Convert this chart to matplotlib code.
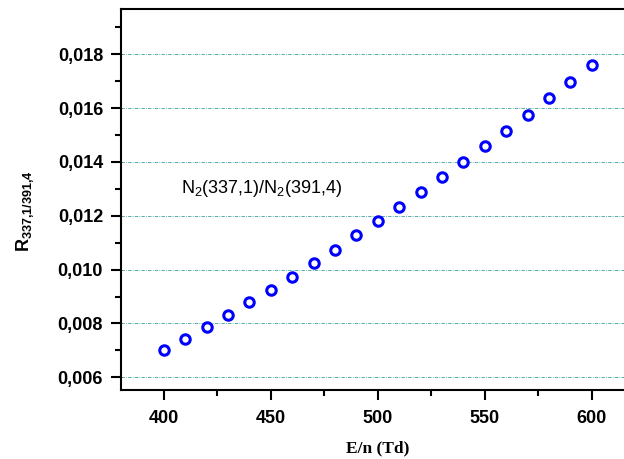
import matplotlib
matplotlib.use("Agg")
import matplotlib.pyplot as plt
from matplotlib.ticker import MultipleLocator, FuncFormatter

plt.rcParams['mathtext.fontset'] = 'custom'
plt.rcParams['mathtext.rm'] = 'Liberation Sans'
plt.rcParams['mathtext.it'] = 'Liberation Sans:italic'
plt.rcParams['mathtext.bf'] = 'Liberation Sans:bold'

en_td = [400, 410, 420, 430, 440, 450, 460, 470, 480, 490, 500,
         510, 520, 530, 540, 550, 560, 570, 580, 590, 600]
ratio = [0.00700, 0.00741, 0.00786, 0.00833, 0.00879, 0.00926, 0.00974,
         0.01025, 0.01074, 0.01127, 0.01180, 0.01234, 0.01289, 0.01345,
         0.01401, 0.01459, 0.01517, 0.01576, 0.01637, 0.01698, 0.01761]

fig = plt.figure(figsize=(6.24, 4.59), dpi=100)
ax = fig.add_axes([0.194, 0.150, 0.823, 0.830])

ax.plot(en_td, ratio, linestyle='none', marker='o', markersize=6.8,
        markerfacecolor='white', markeredgecolor='#0000ff', markeredgewidth=2.2)

ax.set_xlim(380, 620)
ax.set_ylim(0.00552, 0.01968)
ax.xaxis.set_major_locator(MultipleLocator(50))
ax.xaxis.set_minor_locator(MultipleLocator(25))
ax.yaxis.set_major_locator(MultipleLocator(0.002))
ax.yaxis.set_minor_locator(MultipleLocator(0.001))
ax.yaxis.set_major_formatter(FuncFormatter(lambda v, p: f"{v:.3f}".replace('.', ',')))

ax.grid(axis='y', which='major', color='#3a9e9e', linestyle='-.', linewidth=0.6, dashes=(4, 1.5, 1, 1.5))

for side in ['left', 'bottom', 'top']:
    ax.spines[side].set_linewidth(1.5)
ax.spines['right'].set_visible(False)

ax.tick_params(which='major', direction='out', length=7, width=1.5)
ax.tick_params(which='minor', direction='out', length=4, width=1.5)
ax.tick_params(axis='both', labelsize=13, pad=6)
ax.tick_params(axis='x', pad=7)
for lab in ax.get_xticklabels() + ax.get_yticklabels():
    lab.set_fontfamily('Liberation Sans')
    lab.set_fontweight('bold')

ax.set_xlabel('E/n (Td)', fontfamily='Liberation Serif', fontweight='bold', fontsize=12.5, labelpad=10)
ax.set_ylabel(r'$\mathbf{R}_{\mathbf{337{,}1/391{,}4}}$', fontsize=13)
ax.yaxis.set_label_coords(-0.165, 0.47)

ax.text(408, 0.0130, r'N$_{\mathregular{2}}$(337,1)/N$_{\mathregular{2}}$(391,4)', fontfamily='Liberation Sans',
        fontsize=13, va='center', ha='left')

fig.savefig('out.png', dpi=100)
